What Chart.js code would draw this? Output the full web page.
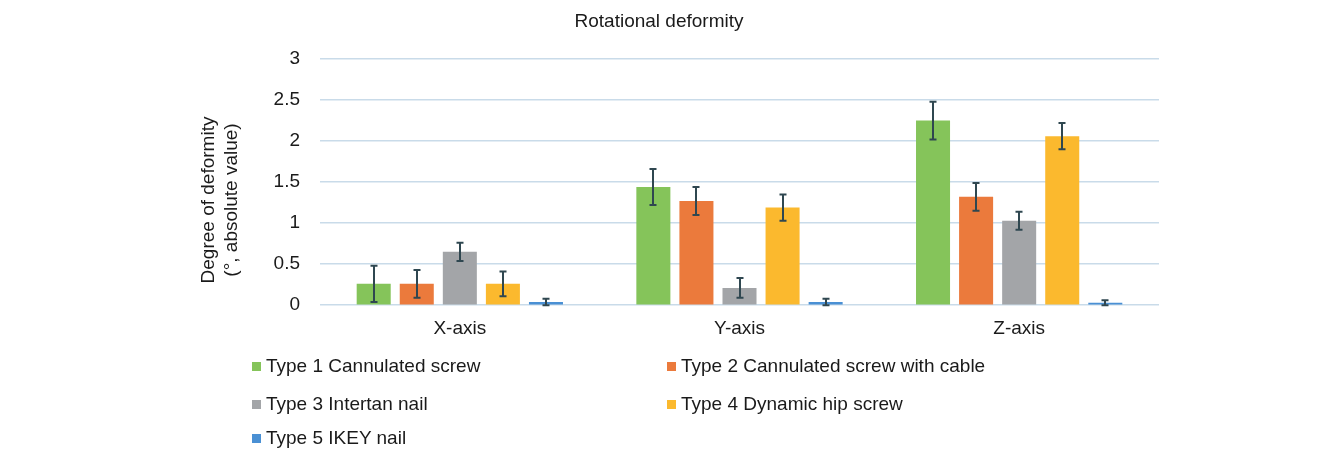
<!DOCTYPE html>
<html>
<head>
<meta charset="utf-8">
<script src="https://cdn.jsdelivr.net/npm/chart.js@4.4.1/dist/chart.umd.min.js"></script>
<style>
    html, body { margin: 0; padding: 0; background: #ffffff; }
    #wrap { position: relative; width: 1318px; height: 451px; }
    #chart { position: absolute; left: 0; top: 0; }
    .legend-item {
        position: absolute;
        font-family: 'Liberation Sans', Arial, sans-serif;
        font-size: 19px;
        color: #1a1a1a;
        white-space: nowrap;
        line-height: 22px;
    }
    .legend-item span.box {
        display: inline-block;
        width: 9px;
        height: 9px;
        margin-right: 5px;
        vertical-align: 1px;
    }
</style>
</head>
<body>
<div id="wrap">
    <canvas id="chart" width="1318" height="451"></canvas>
</div>
<script>
// Données du graphique
const categories = ['X-axis', 'Y-axis', 'Z-axis'];
const seriesNames = [
    'Type 1 Cannulated screw',
    'Type 2 Cannulated screw with cable',
    'Type 3 Intertan nail',
    'Type 4 Dynamic hip screw',
    'Type 5 IKEY nail'
];
const type1 = [0.26, 1.44, 2.25];
const type2 = [0.26, 1.27, 1.32];
const type3 = [0.65, 0.21, 1.03];
const type4 = [0.26, 1.19, 2.06];
const type5 = [0.04, 0.04, 0.03];
// Barres d'erreur (écart-type)
const type1Err = [0.22, 0.22, 0.23];
const type2Err = [0.17, 0.17, 0.17];
const type3Err = [0.11, 0.12, 0.11];
const type4Err = [0.15, 0.16, 0.16];
const type5Err = [0.04, 0.04, 0.03];
const yTicks = [0, 0.5, 1, 1.5, 2, 2.5, 3];

const colors = ['#85C45A', '#EB7A3C', '#A3A5A8', '#FBB92E', '#4A90D4'];
const allValues = [type1, type2, type3, type4, type5];
const allErrors = [type1Err, type2Err, type3Err, type4Err, type5Err];

const FONT = "'Liberation Sans', Arial, sans-serif";

// Plugin pour les barres d'erreur
const errorBarPlugin = {
    id: 'errorBars',
    afterDatasetsDraw(chart) {
        const ctx = chart.ctx;
        const yScale = chart.scales.y;
        ctx.save();
        ctx.strokeStyle = '#2f4750';
        ctx.lineWidth = 2;
        chart.data.datasets.forEach((ds, i) => {
            const meta = chart.getDatasetMeta(i);
            meta.data.forEach((bar, j) => {
                const v = ds.data[j];
                const e = ds.errors[j];
                const yTop = yScale.getPixelForValue(v + e);
                const yBot = yScale.getPixelForValue(Math.max(v - e, 0));
                const x = Math.round(bar.x);
                ctx.beginPath();
                ctx.moveTo(x, yTop);
                ctx.lineTo(x, yBot);
                ctx.moveTo(x - 3.5, yTop);
                ctx.lineTo(x + 3.5, yTop);
                ctx.moveTo(x - 3.5, yBot);
                ctx.lineTo(x + 3.5, yBot);
                ctx.stroke();
            });
        });
        ctx.restore();
    }
};

// Titre du graphique et titre de l'axe Y (sur deux lignes)
const titlesPlugin = {
    id: 'titles',
    afterDraw(chart) {
        const ctx = chart.ctx;
        ctx.save();
        ctx.fillStyle = '#1a1a1a';
        ctx.textAlign = 'center';
        ctx.textBaseline = 'middle';
        ctx.font = '19px ' + FONT;
        ctx.fillText('Rotational deformity', 659, 22);
        const lines = [['Degree of deformity', 209], ['(\u00b0, absolute value)', 232]];
        lines.forEach(([txt, x]) => {
            ctx.save();
            ctx.translate(x, 200);
            ctx.rotate(-Math.PI / 2);
            ctx.fillText(txt, 0, 0);
            ctx.restore();
        });
        ctx.restore();
    }
};

const datasets = seriesNames.map((name, i) => ({
    label: name,
    data: allValues[i],
    errors: allErrors[i],
    backgroundColor: colors[i],
    borderWidth: 0,
    categoryPercentage: 0.77,
    barPercentage: 0.79
}));

const chart = new Chart(document.getElementById('chart'), {
    type: 'bar',
    data: { labels: categories, datasets: datasets },
    options: {
        responsive: false,
        animation: false,
        layout: { padding: { left: 0, right: 159, top: 59, bottom: 107 } },
        plugins: {
            legend: { display: false },
            tooltip: { enabled: false },
            title: { display: false }
        },
        scales: {
            x: {
                grid: { display: false },
                border: { display: false },
                ticks: {
                    color: '#1a1a1a',
                    font: { family: FONT, size: 19 },
                    padding: 4
                }
            },
            y: {
                min: 0,
                max: 3,
                afterFit(scale) { scale.width = 320; },
                afterBuildTicks(scale) {
                    scale.ticks = yTicks.map(v => ({ value: v }));
                },
                grid: { color: '#c9dbe9', lineWidth: 1.5, drawTicks: false },
                border: { display: false },
                ticks: {
                    color: '#1a1a1a',
                    font: { family: FONT, size: 19 },
                    padding: 20,
                    callback: v => String(v)
                }
            }
        }
    },
    plugins: [errorBarPlugin, titlesPlugin]
});

// Légende personnalisée sur deux colonnes
const legendPos = [
    [252, 355], [667, 355],
    [252, 393], [667, 393],
    [252, 427]
];
const wrap = document.getElementById('wrap');
seriesNames.forEach((name, i) => {
    const item = document.createElement('div');
    item.className = 'legend-item';
    item.style.left = legendPos[i][0] + 'px';
    item.style.top = legendPos[i][1] + 'px';
    item.innerHTML = '<span class="box" style="background:' + colors[i] + '"></span>' + name;
    wrap.appendChild(item);
});
</script>
</body>
</html>
